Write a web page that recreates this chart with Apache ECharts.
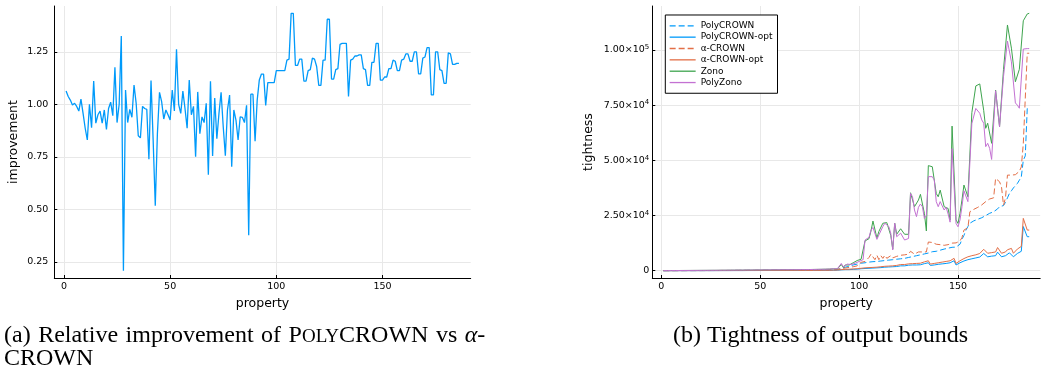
<!DOCTYPE html>
<html><head><meta charset="utf-8">
<script src="https://cdn.jsdelivr.net/npm/echarts@6/dist/echarts.min.js"></script>
<style>html,body{margin:0;padding:0;background:#fff}#c{width:1041px;height:373px}</style>
</head><body><div id="c"></div><script>
// ---------- data ----------
const xTicks = [0, 50, 100, 150];
const improvementTicks = [0.25, 0.5, 0.75, 1.0, 1.25];
const tightnessTicks = [0, 25000, 50000, 75000, 100000];
const seriesNames = ['PolyCROWN', 'PolyCROWN-opt', 'α-CROWN', 'α-CROWN-opt', 'Zono', 'PolyZono'];

const improvement = [
 1.063,1.037,1.02,0.997,1.005,0.99,0.968,1.025,0.957,0.886,
 0.83,1.0,0.889,1.111,0.91,0.95,0.968,0.91,0.973,0.88,
 0.98,1.01,0.946,1.176,0.913,1.0,1.325,0.208,1.068,0.913,
 0.976,0.938,1.092,1.005,0.85,0.84,0.99,0.98,0.976,0.738,
 1.113,0.83,0.517,0.86,1.057,1.013,0.93,0.973,0.95,0.925,
 1.068,0.968,1.262,1.0,0.957,1.063,0.98,0.886,1.116,0.95,
 0.99,0.75,1.059,0.86,0.94,0.913,1.005,0.665,1.11,0.754,
 1.03,0.836,0.957,1.057,0.894,0.755,0.973,1.044,0.703,0.973,
 0.925,0.83,0.94,0.938,0.913,0.995,0.376,1.048,1.048,0.824,
 1.02,1.116,1.144,1.144,0.995,1.103,1.103,1.103,1.103,1.16,
 1.16,1.16,1.16,1.16,1.21,1.215,1.433,1.433,1.185,1.185,
 1.215,1.215,1.11,1.11,1.16,1.165,1.22,1.215,1.18,1.09,
 1.09,1.21,1.21,1.405,1.405,1.12,1.12,1.165,1.17,1.285,
 1.29,1.29,1.29,1.037,1.21,1.215,1.23,1.23,1.235,1.235,
 1.17,1.165,1.09,1.09,1.20,1.20,1.29,1.29,1.115,1.115,
 1.13,1.13,1.17,1.17,1.21,1.205,1.16,1.16,1.21,1.215,
 1.24,1.24,1.205,1.205,1.25,1.25,1.145,1.145,1.22,1.225,
 1.27,1.27,1.045,1.045,1.25,1.25,1.165,1.16,1.10,1.10,
 1.245,1.24,1.19,1.19,1.195,1.195
];

const polyCrown = [
 20,25,22,30,28,35,32,40,38,45, 42,50,48,55,52,60,58,65,62,70,
 68,75,72,80,78,85,82,90,88,95, 100,98,105,110,108,115,120,118,125,130,
 128,135,140,138,145,150,148,155,160,158, 165,170,175,172,180,185,190,188,195,200,
 205,202,210,215,220,225,222,230,235,240, 245,250,248,255,260,270,275,280,290,300,
 310,320,330,340,360,380,410,450,510,
 600,1000,1300,1600,1800,2000,2300,2600,2800,3000,
 3200,3400,3500,3600,3700,3900,4000,4100,4200,4200,
 4300,4400,4500,4600,4700,4800,4900,5000,5100,5200,
 5300,5400,5500,5600,5800,6000,6200,6400,6600,6800,
 7000,7200,7400,7600,7800,8000,8300,8600,8600,8800,
 9000,9300,9600,9800,10000,10200,10400,10600,10600,10700,
 10800,12000,14200,16000,18400,20000,21500,22200,22600,23000,
 23300,23600,24000,24500,25000,25500,26000,26300,26700,27300,
 28000,29000,29200,29500,31000,33000,35000,36200,37500,38500,
 39500,41000,42500,50000,52000,73500,73500
];

const polyCrownOpt = [
 15,18,16,20,19,22,21,25,24,28, 26,30,29,32,31,35,33,38,36,40,
 39,42,41,45,44,48,46,50,49,52, 55,54,57,60,58,62,65,63,67,70,
 68,72,75,73,77,80,78,82,85,84, 88,90,93,91,95,98,100,99,102,105,
 108,106,110,113,116,118,117,121,124,127, 130,133,131,135,138,143,146,150,155,160,
 165,170,176,182,190,200,215,235,260,
 300,400,400,500,500,500,600,600,700,700,
 800,900,1000,1000,1100,1100,1200,1200,1300,1300,
 1400,1400,1500,1600,1700,1700,1800,1800,1900,1900,
 2000,2200,2300,2200,2400,2500,2400,2600,2400,2600,
 2600,2700,2600,3200,2500,3600,2400,2800,2600,2800,
 2900,3000,3100,3200,3300,3400,3600,4300,4500,2600,
 3000,3600,4000,4400,4600,5000,5200,5400,5600,5800,
 6000,6200,6800,7800,7600,6300,6400,6600,6800,6800,
 8400,8700,6300,6400,6800,7600,8100,8100,6300,6800,
 7800,8100,8800,20000,20000,15400,15400
];

const alphaCrown = [
 25,30,28,36,34,42,39,48,46,54, 51,60,58,66,63,72,70,78,75,84,
 82,90,87,96,94,102,99,108,106,114, 120,118,126,132,130,138,144,142,150,156,
 154,162,168,166,174,180,178,186,192,190, 198,204,210,206,216,222,228,225,234,240,
 246,242,252,258,264,270,266,276,282,288, 294,300,298,306,312,324,330,336,348,360,
 372,384,396,408,432,456,492,540,612,
 800,1000,1100,1200,1300,1500,1600,1800,2000,2200,
 2600,3800,4000,4200,4500,6000,7500,7800,5000,7000,
 5000,6800,5600,7000,5600,6300,6800,5800,6000,6500,
 6600,7000,7500,7200,8000,7500,8800,9200,7500,8000,
 8500,8200,8500,9000,8500,13000,13600,12800,12600,12000,
 11500,11800,11200,11500,12000,11800,12200,12500,12400,12600,
 12600,13500,15000,18400,19000,19500,26700,27500,27800,28300,
 28700,29400,29800,30500,31300,32000,32500,32800,33000,41800,
 41800,40300,37900,29700,33000,43300,43300,43300,43300,43500,
 44000,45000,47000,57500,58000,98500,98500
];

const alphaCrownOpt = [
 18,22,20,24,23,26,25,30,29,34, 31,36,35,38,37,42,40,46,43,48,
 47,50,49,54,53,58,55,60,59,62, 66,65,68,72,70,74,78,76,80,84,
 82,86,90,88,92,96,94,98,102,101, 106,108,112,109,114,118,120,119,122,126,
 130,127,132,136,139,142,140,145,149,152, 156,160,157,162,166,172,175,180,186,192,
 198,204,211,218,228,240,258,282,312,
 400,500,500,600,600,700,700,800,800,900,
 1000,1100,1200,1300,1300,1400,1500,1500,1600,1600,
 1700,1800,1900,2000,2100,2100,2200,2200,2300,2400,
 2600,2800,2900,2800,3000,3100,3000,3200,3000,3300,
 3200,3400,3300,4000,3200,4500,3000,3500,3300,3500,
 3600,3800,3900,4000,4200,4300,4500,5400,5600,3300,
 3800,4500,5000,5500,5800,6300,6500,6800,7000,7200,
 7500,7800,8500,9700,9500,7900,8000,8200,8500,8500,
 10500,10900,7900,8000,8500,9500,10100,10100,7900,8500,
 9800,10100,11000,23700,23700,18400,18400
];

const zono = [
 60,70,65,80,75,90,85,100,95,110, 105,120,115,130,125,140,135,150,145,160,
 155,170,165,180,175,190,185,200,195,210, 220,215,230,240,235,250,260,255,270,280,
 275,290,300,295,310,320,315,330,340,335, 350,360,370,365,380,420,400,395,410,420,
 430,425,440,450,460,470,465,480,490,500, 510,520,515,530,540,560,570,580,600,620,
 640,660,680,700,740,780,850,950,800,
 1000,2800,1500,2600,3200,2600,3200,3600,4000,4600,
 4800,5200,6000,13500,14200,14500,18000,22500,22500,14800,
 17800,18000,21500,21600,21800,21300,16000,9800,21500,16500,
 16500,19000,19000,16500,16000,16500,35300,35300,29000,28200,
 32000,34600,34600,26000,18000,47600,47600,47100,46400,35000,
 33500,36500,36500,29000,29300,28200,23000,65500,65500,23000,
 21400,26000,32000,38800,38800,33500,33500,71600,71600,83700,
 84100,84600,84600,72500,64500,66800,66800,57700,56800,81800,
 81800,65200,65200,91200,91200,111300,111300,100800,100000,85600,
 85600,91200,91200,113200,113500,116300,116600
];

const polyZono = [
 55,65,60,75,70,85,80,95,90,105, 100,115,110,125,120,135,130,145,140,155,
 150,165,160,175,170,185,180,195,190,205, 215,210,225,235,230,245,255,250,265,275,
 270,285,295,290,305,315,310,325,335,330, 345,355,365,360,375,900,395,390,405,415,
 425,420,435,445,455,465,460,475,485,495, 505,515,510,525,535,555,565,575,595,615,
 635,655,675,695,735,775,845,1100,900,
 1200,3300,1800,2000,3000,2400,2800,3000,3400,3800,
 4200,4500,5000,13900,14600,15100,18400,19600,19200,14200,
 16200,17000,20000,21500,21800,20000,17000,9400,21500,15400,
 15400,17000,17700,13900,13900,14600,35000,33500,27500,24500,
 28700,30200,29000,23700,25000,42600,42900,42600,41100,31300,
 29000,31300,32000,27500,28700,25700,22000,55300,55300,21400,
 19900,23000,29000,36200,35800,31300,31300,66700,66700,73500,
 73500,71300,68300,66800,56200,57700,55400,50400,50400,81500,
 81500,65200,65200,88000,88000,104000,104000,94600,94000,76000,
 75000,73600,73600,100400,100400,100600,100600
];

// ---------- chart ----------
const SANS = 'DejaVu Sans';
const SERIF = 'Liberation Serif';
const C_BLUE = '#009AFA', C_ORANGE = '#E36F47', C_GREEN = '#3EA44E', C_PURPLE = '#C371D2';
const toPairs = arr => arr.map((v, k) => [k + 1, v]);

function baseAxis(ticks, extra) {
  return Object.assign({
    type: 'value',
    axisLine: { show: true, onZero: false, lineStyle: { color: '#000', width: 1 } },
    axisTick: { show: true, inside: true, length: 3, customValues: ticks, lineStyle: { color: '#000', width: 1 } },
    axisLabel: { customValues: ticks, fontFamily: SANS, fontSize: 9.5, color: '#000' },
    splitLine: { show: true, lineStyle: { color: '#e8e8e8', width: 1 } },
    nameLocation: 'middle',
    nameTextStyle: { fontFamily: SANS, fontSize: 12.5, color: '#000' }
  }, extra);
}

function sciLabel(v) {
  if (v === 0) return '{m|0}';
  const e = Math.floor(Math.log10(v) + 1e-9);
  const mant = (v / Math.pow(10, e)).toFixed(2);
  return '{m|' + mant + '×10}{s|' + e + '}';
}

const chart = echarts.init(document.getElementById('c'), null, { renderer: 'canvas' });

const xLeft = baseAxis(xTicks, { gridIndex: 0, min: -4.55, max: 191.55, name: 'property', nameGap: 18 });
xLeft.axisLabel.margin = 4;
const yLeft = baseAxis(improvementTicks, { gridIndex: 0, min: 0.173, max: 1.468, name: 'improvement', nameGap: 34 });
yLeft.axisLabel.margin = 6;
yLeft.axisLabel.formatter = v => v.toFixed(2);

const xRight = baseAxis(xTicks, { gridIndex: 1, min: -4.55, max: 191.55, name: 'property', nameGap: 18 });
xRight.axisLabel.margin = 4;
const yRight = baseAxis(tightnessTicks, { gridIndex: 1, min: -3300, max: 119900, name: 'tightness', nameGap: 57 });
yRight.axisLabel.margin = 3;
yRight.axisLabel.formatter = sciLabel;
yRight.axisLabel.rich = {
  m: { fontFamily: SANS, fontSize: 9.5, color: '#000', lineHeight: 12 },
  s: { fontFamily: SANS, fontSize: 7, color: '#000', lineHeight: 7, verticalAlign: 'top' }
};

function lineSeries(name, data, color, dashed, xi) {
  return {
    name: name, type: 'line', xAxisIndex: xi, yAxisIndex: xi,
    data: toPairs(data), symbol: 'none', showSymbol: false,
    lineStyle: { color: color, width: 1, type: dashed ? [6, 3] : 'solid' },
    itemStyle: { color: color },
    silent: true, animation: false
  };
}

const capStyle = { fontFamily: SERIF, fontSize: 24, fontWeight: 'normal', color: '#000', lineHeight: 23 };

chart.setOption({
  animation: false,
  backgroundColor: '#fff',
  grid: [
    { left: 54.3, top: 6, width: 416.4, height: 272 },
    { left: 652.3, top: 6, width: 387.9, height: 272 }
  ],
  xAxis: [xLeft, xRight],
  yAxis: [yLeft, yRight],
  legend: {
    data: seriesNames,
    orient: 'vertical', left: 665.3, top: 15,
    itemWidth: 26, itemHeight: 8, itemGap: 2.35,
    padding: [6.3, 5, 6.2, 3.7],
    borderColor: '#000', borderWidth: 1, backgroundColor: '#fff',
    itemStyle: { opacity: 0 },
    lineStyle: { width: 1.3 },
    textStyle: { fontFamily: SANS, fontSize: 9, color: '#000', lineHeight: 8 }
  },
  title: [
    {
      left: 4, top: 324, padding: 0,
      text: '{n|(a)}{sp| }{n|Relative}{sp| }{n|improvement}{sp| }{n|of}{sp| }{n|P}{sc|OLY}{n|CROWN}{sp| }{n|vs}{sp| }{it|α}{n|-}\n{n|CROWN}',
      textStyle: Object.assign({}, capStyle, {
        rich: {
          n: capStyle,
          sp: Object.assign({}, capStyle, { width: 7.5 }),
          sc: Object.assign({}, capStyle, { fontSize: 19, lineHeight: 20, verticalAlign: 'bottom' }),
          it: Object.assign({}, capStyle, { fontStyle: 'italic' })
        }
      })
    },
    {
      left: 673, top: 324, padding: 0,
      text: '(b) Tightness of output bounds',
      textStyle: capStyle
    }
  ],
  series: [
    {
      name: 'improvement', type: 'line', xAxisIndex: 0, yAxisIndex: 0,
      data: toPairs(improvement), symbol: 'none', showSymbol: false,
      lineStyle: { color: C_BLUE, width: 1.3 }, silent: true
    },
    lineSeries(seriesNames[0], polyCrown, C_BLUE, true, 1),
    lineSeries(seriesNames[1], polyCrownOpt, C_BLUE, false, 1),
    lineSeries(seriesNames[2], alphaCrown, C_ORANGE, true, 1),
    lineSeries(seriesNames[3], alphaCrownOpt, C_ORANGE, false, 1),
    lineSeries(seriesNames[4], zono, C_GREEN, false, 1),
    lineSeries(seriesNames[5], polyZono, C_PURPLE, false, 1)
  ]
});
</script></body></html>
